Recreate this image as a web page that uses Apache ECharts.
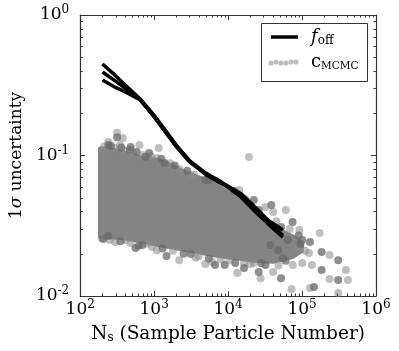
<!DOCTYPE html>
<html><head><meta charset="utf-8">
<script src="https://cdn.jsdelivr.net/npm/echarts@6/dist/echarts.min.js"></script>
<style>html,body{margin:0;padding:0;background:#fff}#c{width:399px;height:351px}</style>
</head><body><div id="c"></div>
<script>
// ---------- data ----------
const xTickValues = [1e2, 1e3, 1e4, 1e5, 1e6];
const xTickExps = ['2', '3', '4', '5', '6'];
const yTickValues = [1e-2, 1e-1, 1e0];
const yTickExps = ['-2', '-1', '0'];
const xMinorTicks = [200,300,400,500,600,700,800,900,2000,3000,4000,5000,6000,7000,8000,9000,
  20000,30000,40000,50000,60000,70000,80000,90000,200000,300000,400000,500000,600000,700000,800000,900000];
const yMinorTicks = [0.02,0.03,0.04,0.05,0.06,0.07,0.08,0.09,0.2,0.3,0.4,0.5,0.6,0.7,0.8,0.9];

// f_off curves (three runs)
const lineX = [200, 300, 440, 650, 1000, 1500, 2000, 3000, 5000, 7000, 10000, 15000, 22000, 35000, 55000];
const fOffA = [0.448, 0.370, 0.305, 0.252, 0.193, 0.145, 0.118, 0.092, 0.075, 0.067, 0.0605, 0.0535, 0.0440, 0.0345, 0.0295];
const fOffB = [0.393, 0.338, 0.292, 0.250, 0.190, 0.143, 0.117, 0.091, 0.073, 0.066, 0.0600, 0.0515, 0.0420, 0.0330, 0.0270];
const fOffC = [0.345, 0.305, 0.278, 0.248, 0.188, 0.141, 0.115, 0.090, 0.074, 0.068, 0.0595, 0.0505, 0.0410, 0.0325, 0.0262];

// dense core of the c_MCMC cloud (outline, data units)
const cloudX = [185, 240, 325, 440, 650, 1000, 1470, 2500, 3980, 6650, 11100, 19100, 30100, 45000, 60300, 81500, 100000,
  100000, 75000, 40700, 19100, 6650, 2690, 1190, 440, 185];
const cloudY = [0.112, 0.111, 0.108, 0.103, 0.097, 0.094, 0.0885, 0.077, 0.070, 0.064, 0.054, 0.045, 0.036, 0.031, 0.028, 0.026, 0.023,
  0.021, 0.019, 0.0175, 0.018, 0.0194, 0.0212, 0.023, 0.0255, 0.0265];

// individual c_MCMC points (light / dark)
const lightX = [315,240,345,631,1153,1086,1815,2455,377,207,3126,7740,14150,32000,40700,
  19100,60300,92000,173000,235000,392000,417000,235000,72300,308000,27500,100700,124000,22300,13300,6080,128000,86700,74500,136000,40700,
  297,933,2180,4920,10470,16400,195,413,1086,3640,
  210,290,400,520,700,900,1650,2200,3500,8500,17000,45000,68000,
  250,480,800,1800,4000,8000,20000,48000,110000];
const lightY = [0.145,0.125,0.119,0.119,0.113,0.096,0.0828,0.075,0.133,0.109,0.0727,0.0637,0.0568,0.043,0.0396,
  0.0976,0.0409,0.0295,0.0281,0.0196,0.0153,0.0130,0.0132,0.0112,0.0105,0.0134,0.0172,0.0202,0.0172,0.0146,0.0175,0.0114,0.022,0.0166,0.0166,0.0148,
  0.0242,0.0223,0.0180,0.0169,0.0180,0.0172,0.0259,0.025,0.0212,0.0187,
  0.116,0.113,0.108,0.104,0.101,0.099,0.088,0.080,0.073,0.061,0.049,0.034,0.030,
  0.0250,0.0238,0.0235,0.0210,0.0192,0.0182,0.0168,0.0165,0.0210];
const darkX = [315,481,853,1383,240,4920,22300,
  38400,74500,128000,184000,308000,308000,145000,51900,55100,37200,16400,9000,64100,47300,100700,184000,32000,
  560,1470,6650,25900,240,690,3126,
  260,360,470,580,760,1250,1900,2800,5500,12000,26000,52000,90000,
  205,350,620,1300,2500,5500,12500,28000,60000,95000];
const darkY = [0.135,0.115,0.104,0.0885,0.119,0.067,0.0482,
  0.0444,0.0336,0.0242,0.0206,0.0180,0.0130,0.0116,0.0134,0.0186,0.0231,0.0158,0.0166,0.025,0.0212,0.025,0.0153,0.0166,
  0.022,0.0193,0.0166,0.0148,0.0267,0.0231,0.0199,
  0.117,0.114,0.110,0.106,0.098,0.095,0.085,0.078,0.067,0.056,0.041,0.031,0.027,
  0.0255,0.0245,0.0228,0.0218,0.0200,0.0185,0.0172,0.0172,0.0178,0.0235];

// ---------- chart ----------
const FONT = 'DejaVu Serif';
const zip = (a, b) => a.map((v, i) => [v, b[i]]);
const near = (arr, v) => arr.findIndex(t => Math.abs(Math.log10(t) - Math.log10(v)) < 1e-6);
const tickRich = {
  b: {fontFamily: FONT, fontSize: 17, color: '#000'},
  e: {fontFamily: FONT, fontSize: 12, color: '#000', padding: [0, 0, 10, 0]}
};
const frame = {show: true, lineStyle: {color: '#333', width: 1.2}};
const majorTick = {show: true, inside: true, length: 5, lineStyle: {color: '#333', width: 1}};

const chart = echarts.init(document.getElementById('c'), null, {renderer: 'canvas'});

function minorTickRender(isX) {
  return function (params, api) {
    const cs = params.coordSys;
    const p = api.coord([api.value(0), api.value(1)]);
    const L = 2.5;
    const st = {stroke: '#333', lineWidth: 1};
    if (isX) {
      const x = Math.round(p[0]) + 0.5;
      return {type: 'group', children: [
        {type: 'line', shape: {x1: x, y1: cs.y + cs.height, x2: x, y2: cs.y + cs.height - L}, style: st},
        {type: 'line', shape: {x1: x, y1: cs.y, x2: x, y2: cs.y + L}, style: st}
      ]};
    } else {
      const y = Math.round(p[1]) + 0.5;
      return {type: 'group', children: [
        {type: 'line', shape: {x1: cs.x, y1: y, x2: cs.x + L, y2: y}, style: st},
        {type: 'line', shape: {x1: cs.x + cs.width, y1: y, x2: cs.x + cs.width - L, y2: y}, style: st}
      ]};
    }
  };
}

const option = {
  animation: false,
  backgroundColor: '#fff',
  grid: {left: 71, right: 23, top: 15, bottom: 55, containLabel: false},
  xAxis: [{
    type: 'log', logBase: 10, min: 100, max: 1e6, position: 'bottom',
    axisLine: frame, axisTick: majorTick, splitLine: {show: false}, minorTick: {show: false},
    axisLabel: {margin: 3, formatter: v => { const i = near(xTickValues, v); return i < 0 ? '' : '{b|10}{e|' + xTickExps[i] + '}'; }, rich: tickRich},
    name: '{n|N}{s|s}{n| (Sample Particle Number)}', nameLocation: 'middle', nameGap: 28,
    nameTextStyle: {rich: {
      n: {fontFamily: FONT, fontSize: 18.5, color: '#000'},
      s: {fontFamily: FONT, fontSize: 12, color: '#000', padding: [8, 0, 0, 0]}
    }}
  }, {
    type: 'log', logBase: 10, min: 100, max: 1e6, position: 'top',
    axisLine: frame, axisTick: majorTick, axisLabel: {show: false}, splitLine: {show: false}
  }],
  yAxis: [{
    type: 'log', logBase: 10, min: 0.01, max: 1, position: 'left',
    axisLine: frame, axisTick: majorTick, splitLine: {show: false}, minorTick: {show: false},
    axisLabel: {margin: 11, formatter: v => { const i = near(yTickValues, v); return i < 0 ? '' : '{b|10}{e|' + yTickExps[i] + '}'; }, rich: tickRich},
    name: '{n|1}{i|σ}{n| uncertainty}', nameLocation: 'middle', nameGap: 46,
    nameTextStyle: {rich: {
      n: {fontFamily: FONT, fontSize: 17, color: '#000'},
      i: {fontFamily: FONT, fontSize: 17, color: '#000', fontStyle: 'italic'}
    }}
  }, {
    type: 'log', logBase: 10, min: 0.01, max: 1, position: 'right',
    axisLine: frame, axisTick: majorTick, axisLabel: {show: false}, splitLine: {show: false}
  }],
  series: [
    {
      type: 'custom', name: 'cloud', z: 1, silent: true,
      data: zip(cloudX, cloudY),
      renderItem: function (params, api) {
        if (params.dataIndex !== 0) return null;
        const pts = cloudX.map((x, i) => api.coord([x, cloudY[i]]));
        return {type: 'polygon', shape: {points: pts}, style: {fill: '#848484', stroke: '#848484', lineWidth: 4, lineJoin: 'round'}};
      }
    },
    {type: 'scatter', name: 'c_MCMC light', z: 2, symbol: 'circle', symbolSize: 8, data: zip(lightX, lightY),
      itemStyle: {color: '#8a8a8a', opacity: 0.55}},
    {type: 'scatter', name: 'c_MCMC dark', z: 2, symbol: 'circle', symbolSize: 8, data: zip(darkX, darkY),
      itemStyle: {color: '#6a6a6a', opacity: 0.75}},
    {type: 'line', name: 'f_off A', z: 5, showSymbol: false, data: zip(lineX, fOffA), lineStyle: {color: '#000', width: 3.5}},
    {type: 'line', name: 'f_off B', z: 5, showSymbol: false, data: zip(lineX, fOffB), lineStyle: {color: '#000', width: 3.5}},
    {type: 'line', name: 'f_off C', z: 5, showSymbol: false, data: zip(lineX, fOffC), lineStyle: {color: '#000', width: 3.5}},
    {type: 'custom', name: 'xminor', z: 6, silent: true, clip: false,
      data: xMinorTicks.map(v => [v, 0.01]), renderItem: minorTickRender(true)},
    {type: 'custom', name: 'yminor', z: 6, silent: true, clip: false,
      data: yMinorTicks.map(v => [100, v]), renderItem: minorTickRender(false)}
  ],
  graphic: [
    {type: 'rect', z: 100, shape: {x: 261.5, y: 23.5, width: 106, height: 58}, style: {fill: '#fff', stroke: '#333', lineWidth: 1}},
    {type: 'line', z: 101, shape: {x1: 271, y1: 37, x2: 298, y2: 37}, style: {stroke: '#000', lineWidth: 3.5}},
    {type: 'circle', z: 101, shape: {cx: 271, cy: 63, r: 2.6}, style: {fill: '#bdbdbd'}},
    {type: 'circle', z: 101, shape: {cx: 276, cy: 62, r: 2.6}, style: {fill: '#bdbdbd'}},
    {type: 'circle', z: 101, shape: {cx: 281, cy: 63, r: 2.6}, style: {fill: '#bdbdbd'}},
    {type: 'circle', z: 101, shape: {cx: 286, cy: 63, r: 2.6}, style: {fill: '#bdbdbd'}},
    {type: 'circle', z: 101, shape: {cx: 291, cy: 62, r: 2.6}, style: {fill: '#bdbdbd'}},
    {type: 'circle', z: 101, shape: {cx: 296, cy: 62, r: 2.6}, style: {fill: '#bdbdbd'}},
    {type: 'text', z: 101, x: 311, y: 37, style: {text: '{i|f}{s|off}', verticalAlign: 'middle', rich: {
      i: {fontFamily: FONT, fontSize: 18, fontStyle: 'italic', fill: '#000'},
      s: {fontFamily: FONT, fontSize: 12, fill: '#000', padding: [8, 0, 0, 0]}
    }}},
    {type: 'text', z: 101, x: 311, y: 62, style: {text: '{n|c}{s|MCMC}', verticalAlign: 'middle', rich: {
      n: {fontFamily: FONT, fontSize: 18, fill: '#000'},
      s: {fontFamily: FONT, fontSize: 10.5, fill: '#000', padding: [8, 0, 0, 0]}
    }}}
  ]
};
chart.setOption(option);
</script></body></html>
